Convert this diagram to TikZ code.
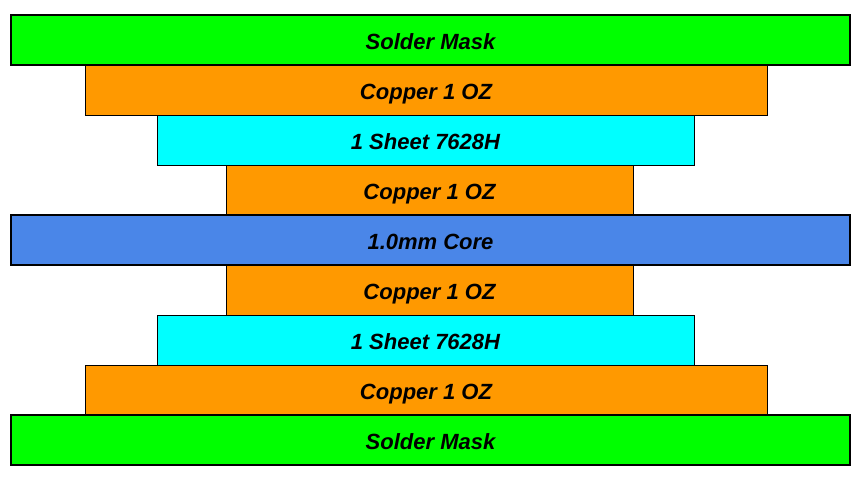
\documentclass[tikz,border=0pt]{standalone}
\usepackage{fontspec}
\setmainfont{Liberation Sans}
\usepackage{xcolor}
\usetikzlibrary{positioning}

\definecolor{maskgreen}{HTML}{00FF00}
\definecolor{copperorange}{HTML}{FF9900}
\definecolor{prepregcyan}{HTML}{00FFFF}
\definecolor{coreblue}{HTML}{4A86E8}

\tikzset{
    layer/.style   = {draw = black, line width = 1pt, minimum height = 50pt,
                      inner sep = 0pt, outer sep = 0pt,
                      text height = 20pt, text depth = 2pt,
                      font = \bfseries\itshape\fontsize{22}{26}\selectfont},
    mask/.style    = {layer, fill = maskgreen, minimum width = 839pt, line width = 1.5pt},
    copper/.style  = {layer, fill = copperorange},
    prepreg/.style = {layer, fill = prepregcyan, minimum width = 537pt},
    core/.style    = {layer, fill = coreblue, minimum width = 839pt, line width = 2pt}
}

\begin{document}
\begin{tikzpicture}[x = 1pt, y = 1pt]
    \useasboundingbox (0,0) rectangle (860,-483);

    \node[mask]    (mask1)                                            at (430.5,-40) {Solder Mask};
    \node[copper, minimum width = 682pt] (cu1)   [below = 0pt of mask1, xshift = -4.5pt] {Copper 1 OZ};
    \node[prepreg] (pp1)   [below = 0pt of cu1, xshift = -0.5pt]     {1 Sheet 7628H};
    \node[copper, minimum width = 407pt] (cu2)   [below = 0pt of pp1, xshift = 4pt]      {Copper 1 OZ};
    \node[core]    (core)  [below = 0pt of cu2, xshift = 1pt]        {1.0mm Core};
    \node[copper, minimum width = 407pt] (cu3)   [below = 0pt of core, xshift = -1pt]    {Copper 1 OZ};
    \node[prepreg] (pp2)   [below = 0pt of cu3, xshift = -4pt]       {1 Sheet 7628H};
    \node[copper, minimum width = 682pt] (cu4)   [below = 0pt of pp2, xshift = 0.5pt]    {Copper 1 OZ};
    \node[mask]    (mask2) [below = 0pt of cu4, xshift = 4.5pt]      {Solder Mask};
\end{tikzpicture}
\end{document}
